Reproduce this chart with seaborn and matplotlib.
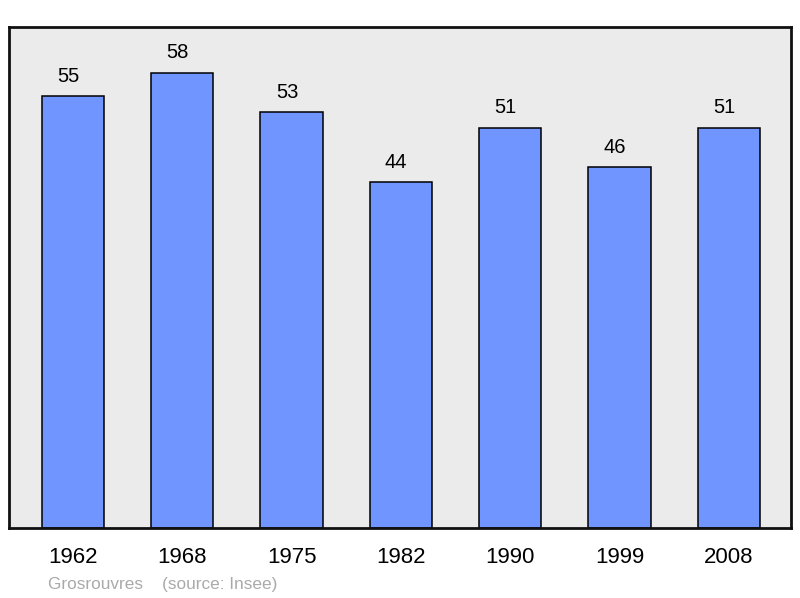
import numpy as np
import pandas as pd
import matplotlib
matplotlib.use("Agg")
import matplotlib.pyplot as plt
import seaborn as sns

years = ["1962", "1968", "1975", "1982", "1990", "1999", "2008"]
population = [55, 58, 53, 44, 51, 46, 51]

df = pd.DataFrame({"year": years, "pop": population})

sns.set_style("white")
plt.rcParams["font.family"] = ["Liberation Sans", "DejaVu Sans"]

fig = plt.figure(figsize=(8, 5.98), dpi=100)
ax = fig.add_axes([9 / 800, 70 / 598, 782 / 800, 501 / 598])
ax.set_facecolor("#ebebeb")

sns.barplot(data=df, x="year", y="pop", color="#7095ff", width=0.57,
            edgecolor="black", linewidth=1.1, saturation=1, ax=ax)

# value labels sit a bit left of the bar centre, like the original
for i, v in enumerate(population):
    ax.annotate(str(v), (i, v + 1.8), xytext=(-3.3, 0), textcoords="offset points",
                ha="center", va="baseline", fontsize=14.5, color="black")

ax.set_ylim(0, max(population) * 1.1)
ax.set_xlim(-0.585, 6.57)
ax.set_yticks([])
ax.set_xlabel("")
ax.set_ylabel("")
ax.tick_params(axis="x", length=0, labelsize=16, pad=14, labelcolor="black")
for s in ax.spines.values():
    s.set_visible(True)
    s.set_linewidth(2)
    s.set_color("#111111")

fig.text(48 / 800, 1 - 584 / 598, "Grosrouvres    (source: Insee)", color="#aaaaaa",
         fontsize=12.4, va="center", ha="left")

plt.savefig("out.png", dpi=100)
